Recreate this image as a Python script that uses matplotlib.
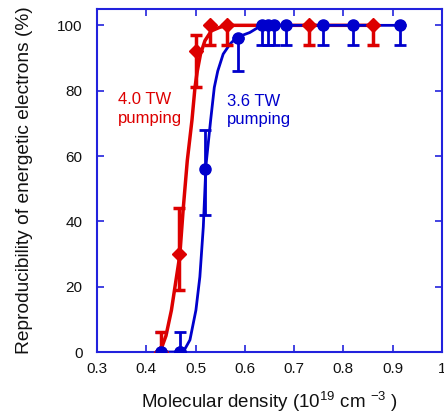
import matplotlib
matplotlib.use("Agg")
import matplotlib.pyplot as plt
import numpy as np

plt.rcParams['font.family'] = ['Liberation Sans', 'DejaVu Sans']
plt.rcParams['mathtext.default'] = 'regular'

# Data: 4.0 TW pumping (red diamonds)
red_x = [0.43, 0.467, 0.50, 0.529, 0.564, 0.731, 0.859]
red_y = [0, 30, 92, 100, 100, 100, 100]
red_err_lo = [0, 11, 11, 6, 6, 6, 6]
red_err_hi = [6, 14, 5, 0, 0, 0, 0]

# Data: 3.6 TW pumping (blue circles)
blue_x = [0.43, 0.469, 0.52, 0.587, 0.634, 0.647, 0.659, 0.684, 0.758, 0.819, 0.915]
blue_y = [0, 0, 56, 96, 100, 100, 100, 100, 100, 100, 100]
blue_err_lo = [0, 0, 14, 10, 6, 6, 6, 6, 6, 6, 6]
blue_err_hi = [6, 6, 12, 0, 0, 0, 0, 0, 0, 0, 0]

# Fitted curves
red_fit_x = [0.428, 0.440, 0.451, 0.468, 0.4747, 0.4832, 0.4927, 0.4988, 0.5035,
             0.510, 0.519, 0.532, 0.549, 0.565, 0.86]
red_fit_y = [0, 5, 12.8, 29.6, 43.4, 58.6, 71, 81, 86, 91.2, 95.3, 98.3, 99.4, 100, 100]
blue_fit_x = [0.43, 0.475, 0.4886, 0.5007, 0.5087, 0.5157, 0.521, 0.5306, 0.538,
              0.545, 0.556, 0.570, 0.5835, 0.61, 0.634, 0.915]
blue_fit_y = [0, 0, 3.7, 12.8, 23, 38.3, 57, 71, 81, 86, 91.2, 94.3, 96.3, 97.8, 100, 100]

xticks = [0.3, 0.4, 0.5, 0.6, 0.7, 0.8, 0.9, 1.0]
xticklabels = ['0.3', '0.4', '0.5', '0.6', '0.7', '0.8', '0.9', '1']
yticks = [0, 20, 40, 60, 80, 100]

RED = '#dd0000'
BLUE = '#0000cc'
FRAME = '#2222dd'

fig = plt.figure(figsize=(4.44, 4.16), dpi=100)
ax = fig.add_axes([97/444, 1-352/416, (442-97)/444, (352-9)/416])

ax.plot(red_fit_x, red_fit_y, color=RED, lw=2.5, zorder=2)
ax.plot(blue_fit_x, blue_fit_y, color=BLUE, lw=2.0, zorder=3)

ax.errorbar(blue_x, blue_y, yerr=[blue_err_lo, blue_err_hi], fmt='o', color=BLUE,
            ms=8, ecolor=BLUE, elinewidth=2.0, capsize=4, capthick=2.0, zorder=4)
ax.errorbar(red_x, red_y, yerr=[red_err_lo, red_err_hi], fmt='D', color=RED,
            ms=7.5, ecolor=RED, elinewidth=2.5, capsize=4, capthick=2.5, zorder=5)
# redraw blue markers at the lowest points on top
ax.plot(blue_x[:2], blue_y[:2], 'o', color=BLUE, ms=8, zorder=6)

ax.text(0.343, 79.6, '4.0 TW\npumping', color=RED, fontsize=12, va='top', ha='left',
        linespacing=1.3)
ax.text(0.563, 79.1, '3.6 TW\npumping', color=BLUE, fontsize=12, va='top', ha='left',
        linespacing=1.3)

ax.set_xlim(0.3, 1.0)
ax.set_ylim(0, 105)
ax.set_xticks(xticks)
ax.set_xticklabels(xticklabels)
ax.set_yticks(yticks)
ax.tick_params(direction='in', length=5, width=1.2, color=FRAME, labelsize=11,
               top=True, right=True, labelcolor='#111111')
ax.tick_params(axis='x', pad=7)
ax.tick_params(axis='y', pad=10.5)
for s in ax.spines.values():
    s.set_color(FRAME)
    s.set_linewidth(1.5)

ax.set_xlabel('Molecular density (10$^{19}$ cm $^{-3}$ )', fontsize=13.5, labelpad=10,
              color='#111111')
ax.set_ylabel('Reproducibility of energetic electrons (%)', fontsize=13.8,
              color='#111111')
ax.yaxis.set_label_coords(-0.186, 0.5)

fig.savefig('out.png', dpi=100)
